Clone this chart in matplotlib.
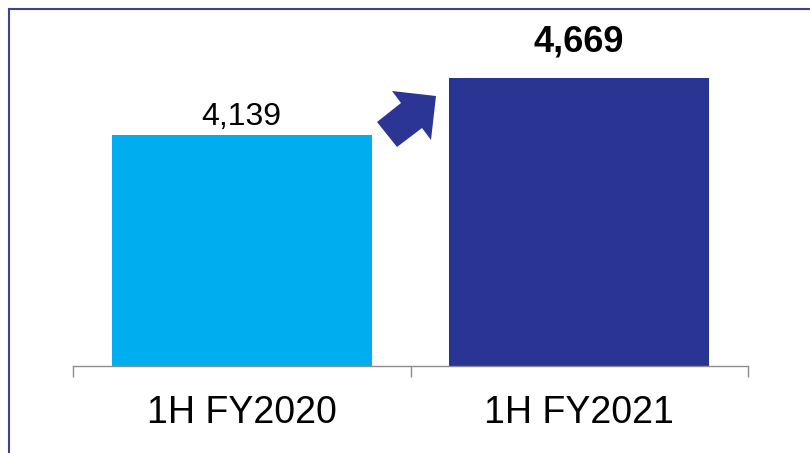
import matplotlib
matplotlib.use("Agg")
import matplotlib.pyplot as plt
from matplotlib.patches import Polygon
from matplotlib.lines import Line2D

plt.rcParams["font.family"] = ["Liberation Sans", "DejaVu Sans"]

# data
periods = ["1H FY2020", "1H FY2021"]
values = [4139, 4669]
bar_colors = ["#00aeef", "#283593"]
label_weights = ["normal", "bold"]
label_sizes = [23, 26]
label_offsets = [2, 13]

W, H = 810, 453
fig = plt.figure(figsize=(W / 100, H / 100), dpi=100)
fig.patch.set_facecolor("white")

# axes placed in pixel terms
left, right, base, top = 73, 748, 366, 42
ax = fig.add_axes([left / W, 1 - base / H, (right - left) / W, (base - top) / H])

x = list(range(len(periods)))
ax.bar(x, values, width=0.77, color=bar_colors)
ax.set_xlim(-0.5, len(periods) - 0.5)
ax.set_ylim(2000, 5000)

for xi, v, w, s, off in zip(x, values, label_weights, label_sizes, label_offsets):
    ax.annotate(f"{v:,}", (xi, v), xytext=(0, off), textcoords="offset points",
                ha="center", va="bottom", fontsize=s, fontweight=w, color="black")

# axis styling
for sp in ["top", "right", "left"]:
    ax.spines[sp].set_visible(False)
ax.spines["bottom"].set_color("#8c8c8c")
ax.spines["bottom"].set_linewidth(1.0)
ax.set_yticks([])
ax.set_xticks(x)
ax.set_xticklabels(periods, fontsize=27)
ax.tick_params(axis="x", which="major", length=0, pad=21)
ax.set_xticks([-0.5, 0.5, 1.5], minor=True)
ax.tick_params(axis="x", which="minor", length=8, width=1, color="#8c8c8c")

# growth arrow
arrow_px = [(377, 122), (397, 147), (422, 128), (431, 140),
            (436, 96), (392, 91), (401, 103)]
fig.patches.append(Polygon([(px / W, 1 - py / H) for px, py in arrow_px],
                           closed=True, transform=fig.transFigure,
                           facecolor="#2b3593", edgecolor="none"))

# frame lines (left and top)
fig.add_artist(Line2D([9 / W, 9 / W], [0, 1 - 9 / H], transform=fig.transFigure,
                      color="#3d4299", linewidth=1.5))
fig.add_artist(Line2D([9 / W, 1], [1 - 9 / H, 1 - 9 / H], transform=fig.transFigure,
                      color="#3d4299", linewidth=1.5))

fig.savefig("out.png", dpi=100)
